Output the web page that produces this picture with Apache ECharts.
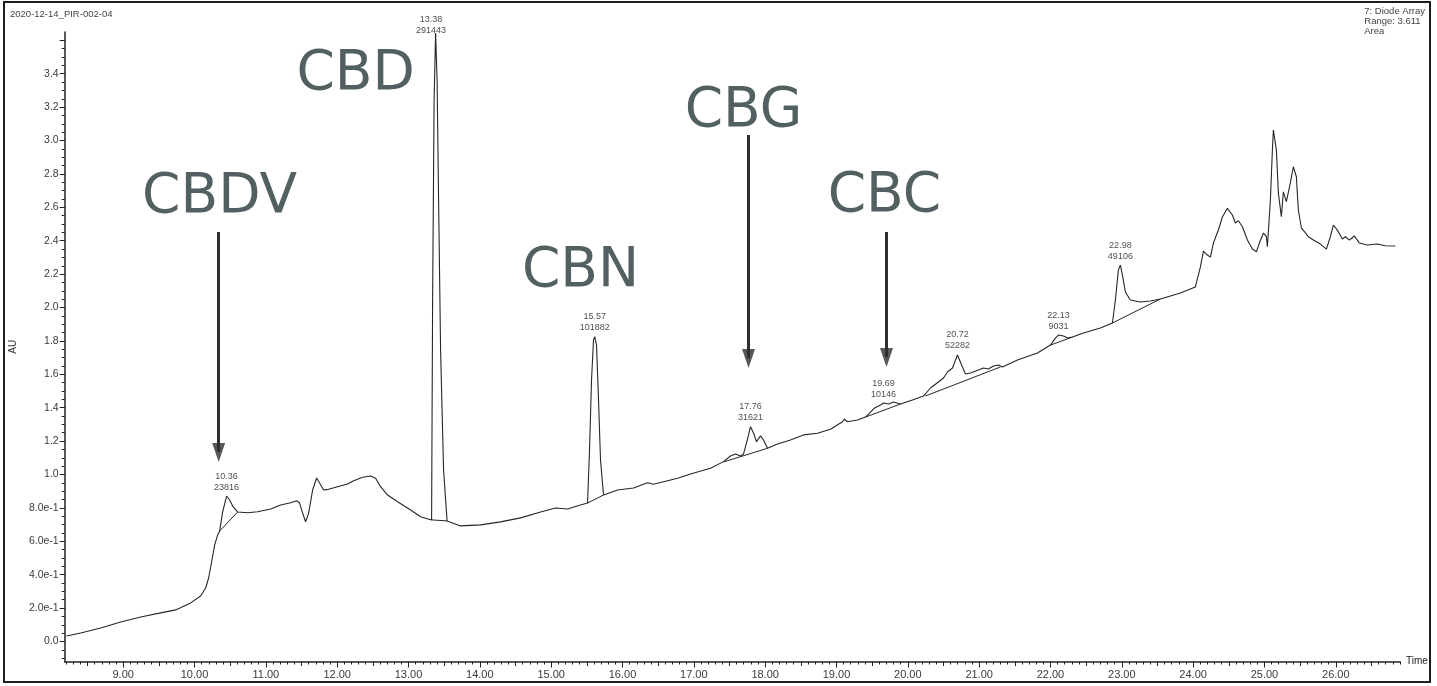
<!DOCTYPE html>
<html><head><meta charset="utf-8">
<script src="https://cdn.jsdelivr.net/npm/echarts@6/dist/echarts.min.js"></script>
<style>html,body{margin:0;padding:0;background:#fff}#c{width:1437px;height:686px}</style>
</head><body><div id="c"></div>
<script>
// Chromatogram trace: [retention time (min), absorbance (AU)]
const trace = [
[8.208,0.033],[8.405,0.051],[8.685,0.081],[8.965,0.117],[9.245,0.147],[9.526,0.171],[9.736,0.189],[9.946,0.231],
[10.086,0.272],[10.156,0.320],[10.198,0.380],[10.240,0.476],[10.283,0.578],[10.325,0.638],[10.353,0.662],[10.394,0.775],
[10.450,0.871],[10.493,0.847],[10.535,0.811],[10.605,0.775],[10.745,0.771],[10.885,0.777],[11.067,0.793],[11.208,0.817],
[11.348,0.831],[11.432,0.843],[11.474,0.829],[11.516,0.769],[11.558,0.717],[11.600,0.769],[11.656,0.907],[11.712,0.979],
[11.754,0.949],[11.810,0.907],[11.880,0.911],[12.006,0.927],[12.147,0.943],[12.231,0.963],[12.357,0.983],[12.469,0.991],
[12.539,0.977],[12.609,0.927],[12.707,0.877],[12.847,0.837],[13.030,0.787],[13.170,0.747],[13.324,0.728],
[13.338,2.045],[13.359,3.243],[13.380,3.644],[13.401,3.362],[13.422,2.644],[13.450,1.746],[13.492,1.027],[13.541,0.722],
[13.730,0.692],[14.011,0.698],[14.291,0.716],[14.571,0.740],[14.852,0.775],[15.062,0.799],[15.230,0.793],[15.412,0.817],
[15.510,0.829],[15.538,1.147],[15.566,1.566],[15.594,1.805],[15.612,1.825],[15.636,1.775],[15.664,1.446],[15.692,1.087],
[15.734,0.877],[15.931,0.907],[16.155,0.919],[16.351,0.951],[16.435,0.941],[16.576,0.957],[16.772,0.977],[16.954,1.003],
[17.234,1.037],[17.416,1.077],[17.514,1.111],[17.585,1.123],[17.655,1.111],[17.697,1.123],[17.750,1.207],[17.795,1.286],
[17.837,1.249],[17.879,1.196],[17.935,1.231],[17.977,1.207],[18.033,1.157],[18.173,1.183],[18.355,1.207],[18.538,1.237],
[18.734,1.247],[18.916,1.271],[19.084,1.316],[19.112,1.331],[19.154,1.316],[19.294,1.326],[19.407,1.344],[19.449,1.362],
[19.533,1.398],[19.617,1.416],[19.659,1.428],[19.729,1.422],[19.799,1.434],[19.897,1.422],[20.065,1.446],[20.219,1.470],
[20.247,1.482],[20.317,1.518],[20.345,1.524],[20.429,1.554],[20.500,1.578],[20.556,1.614],[20.626,1.638],[20.696,1.716],
[20.766,1.644],[20.808,1.602],[20.878,1.608],[20.990,1.626],[21.060,1.638],[21.130,1.632],[21.200,1.650],[21.271,1.656],
[21.327,1.644],[21.537,1.686],[21.817,1.728],[22.000,1.775],[22.069,1.817],[22.112,1.835],[22.182,1.829],[22.238,1.817],
[22.308,1.823],[22.462,1.847],[22.700,1.877],[22.868,1.907],[22.910,2.045],[22.952,2.225],[22.980,2.254],[23.008,2.195],
[23.050,2.093],[23.120,2.045],[23.260,2.033],[23.400,2.039],[23.541,2.051],[23.821,2.087],[24.031,2.123],[24.102,2.243],
[24.144,2.338],[24.200,2.314],[24.242,2.302],[24.284,2.386],[24.354,2.464],[24.410,2.542],[24.480,2.594],[24.550,2.554],
[24.593,2.506],[24.635,2.520],[24.691,2.484],[24.761,2.404],[24.831,2.350],[24.887,2.334],[24.929,2.386],[24.985,2.446],
[25.027,2.424],[25.041,2.364],[25.083,2.644],[25.111,2.943],[25.125,3.063],[25.167,2.943],[25.195,2.686],[25.237,2.544],
[25.265,2.693],[25.307,2.634],[25.335,2.644],[25.363,2.746],[25.405,2.843],[25.447,2.783],[25.475,2.584],[25.518,2.476],
[25.560,2.454],[25.616,2.424],[25.686,2.404],[25.784,2.380],[25.868,2.350],[25.924,2.424],[25.966,2.494],[26.022,2.464],
[26.092,2.410],[26.134,2.424],[26.191,2.404],[26.261,2.428],[26.331,2.386],[26.443,2.374],[26.583,2.380],[26.695,2.370],
[26.835,2.368]
];
// Integration baselines drawn under the peaks
const baselines = [
[[10.353,0.662],[10.605,0.775]],
[[13.324,0.728],[13.541,0.722]],
[[15.510,0.829],[15.734,0.877]],
[[17.416,1.075],[18.033,1.157]],
[[19.407,1.344],[19.897,1.422]],
[[20.247,1.470],[21.299,1.644]],
[[22.000,1.775],[22.308,1.823]],
[[22.868,1.907],[23.541,2.051]]
];
// Peak annotations
const peakRT    = ['10.36','13.38','15.57','17.76','19.69','20.72','22.13','22.98'];
const peakArea  = ['23816','291443','101882','31621','10146','52282','9031','49106'];
const peakApexT = [10.450,13.380,15.612,17.795,19.659,20.696,22.112,22.980];
const peakApexV = [0.871,3.644,1.825,1.286,1.428,1.716,1.835,2.254];
// Compound names
const compounds = ['CBDV','CBD','CBN','CBG','CBC'];
// Tick labels
const xTickLabels = [9,10,11,12,13,14,15,16,17,18,19,20,21,22,23,24,25,26];
const yTickLabels = [0,0.2,0.4,0.6,0.8,1.0,1.2,1.4,1.6,1.8,2.0,2.2,2.4,2.6,2.8,3.0,3.2,3.4];

const X_MIN = 8.18, X_MAX = 26.9, Y_MIN = -0.12, Y_MAX = 3.65;
const minorX = [], halfX = [], minorY = [];
for (let i = 82; i <= 269; i++) minorX.push(+(i/10).toFixed(1));
for (let i = 17; i <= 53; i++) halfX.push(i/2);
for (let i = -2; i <= 72; i++) minorY.push(+(i*0.05).toFixed(2));

// layout-only placement for compound annotations and arrows [time, from AU, tip AU]
const compoundPos = [[10.353,2.656],[12.259,3.392],[15.412,2.213],[17.697,3.171],[19.673,2.662]];
const arrows = [[10.339,2.452,1.075],[17.767,3.033,1.638],[19.701,2.452,1.644]];

const axisColor = '#222';
const labelFont = {fontFamily:'Liberation Sans, Arial, sans-serif', color:'#3a3a3a'};

function fmtY(v){
  if (Math.abs(v) < 1e-9) return '0.0';
  if (v < 0.999) return v.toExponential(1);
  return v.toFixed(1);
}

const chart = echarts.init(document.getElementById('c'), null, {renderer:'canvas'});
const grid = {left:64, right:37, top:32, bottom:24.5, containLabel:false};

const series = [{
  type:'line', data:trace, showSymbol:false, animation:false, silent:true,
  lineStyle:{color:'#262626', width:1.1}, z:5,
  markLine:{
    silent:true, animation:false, symbol:['none','none'],
    lineStyle:{color:'#2e2e2e', width:3, type:'solid'}, label:{show:false},
    data: arrows.map(a => [{coord:[a[0],a[1]]},{coord:[a[0],a[2]+0.06]}])
  }
}];
baselines.forEach(seg => series.push({
  type:'line', data:seg, showSymbol:false, animation:false, silent:true,
  lineStyle:{color:'#262626', width:1}, z:4
}));
// arrowheads
series.push({
  type:'scatter', animation:false, silent:true, z:8,
  symbol:'path://M0,0 L14,0 L7,20 Z', symbolSize:[13,19], symbolOffset:[0,-9.5],
  itemStyle:{color:'#2e2e2e'},
  data: arrows.map(a => [a[0], a[2]])
});
series.push({
  type:'scatter', symbolSize:1, itemStyle:{color:'rgba(0,0,0,0)'}, animation:false, silent:true, z:6,
  data: peakApexT.map((t,i) => {
    const d = {value:[t, peakApexV[i]], name:peakRT[i]+'\n'+peakArea[i]};
    if (i === 1) d.label = {position:'left', distance:4, offset:[0,-8], align:'center'};
    return d;
  }),
  label:{show:true, position:'top', distance:3, formatter:p=>p.name, fontSize:9, lineHeight:11,
         align:'center', ...labelFont, color:'#222'}
});
series.push({
  type:'scatter', symbolSize:1, itemStyle:{color:'rgba(0,0,0,0)'}, animation:false, silent:true, z:7,
  data: compounds.map((c,i) => ({value:compoundPos[i], name:c})),
  label:{show:true, position:'inside', formatter:p=>p.name, fontSize:55,
         fontFamily:'DejaVu Sans, sans-serif', color:'#27383b'}
});

const option = {
  animation:false,
  backgroundColor:'#ffffff',
  grid,
  xAxis:[{
    type:'value', min:X_MIN, max:X_MAX, position:'bottom',
    name:'Time', nameLocation:'end', nameGap:6,
    nameTextStyle:{fontSize:10, ...labelFont, color:'#222', verticalAlign:'middle'},
    axisLine:{show:true, onZero:false, lineStyle:{color:axisColor, width:1.5}},
    axisTick:{show:true, customValues:xTickLabels, length:6, lineStyle:{color:axisColor}},
    axisLabel:{show:true, customValues:xTickLabels, formatter:v=>v.toFixed(2), fontSize:11, margin:8, ...labelFont},
    splitLine:{show:false}
  },{
    type:'value', min:X_MIN, max:X_MAX, position:'bottom', gridIndex:0,
    axisLine:{show:false, onZero:false},
    axisTick:{show:true, customValues:minorX, length:3, lineStyle:{color:axisColor}},
    axisLabel:{show:false}, splitLine:{show:false}
  },{
    type:'value', min:X_MIN, max:X_MAX, position:'bottom', gridIndex:0,
    axisLine:{show:false, onZero:false},
    axisTick:{show:true, customValues:halfX, length:4.5, lineStyle:{color:axisColor}},
    axisLabel:{show:false}, splitLine:{show:false}
  }],
  yAxis:[{
    type:'value', min:Y_MIN, max:Y_MAX, position:'left',
    name:'AU', nameLocation:'middle', nameGap:46, nameRotate:90,
    nameTextStyle:{fontSize:10, ...labelFont, color:'#333'},
    axisLine:{show:true, onZero:false, lineStyle:{color:axisColor, width:1.5}},
    axisTick:{show:true, customValues:yTickLabels.concat([3.6]), length:5, lineStyle:{color:axisColor}},
    axisLabel:{show:true, customValues:yTickLabels, formatter:fmtY, fontSize:10.5, margin:6, ...labelFont},
    splitLine:{show:false}
  },{
    type:'value', min:Y_MIN, max:Y_MAX, position:'left', gridIndex:0,
    axisLine:{show:false, onZero:false},
    axisTick:{show:true, customValues:minorY, length:3, lineStyle:{color:axisColor}},
    axisLabel:{show:false}, splitLine:{show:false}
  }],
  graphic:[
    {type:'rect', shape:{x:4, y:2, width:1426, height:680}, style:{fill:'none', stroke:'#1e1e1e', lineWidth:2}, silent:true},
    {type:'text', left:10, top:9, style:{text:'2020-12-14_PIR-002-04', fontSize:9.5, fill:'#444', fontFamily:'Liberation Sans, Arial, sans-serif'}},
    {type:'text', right:12, top:6, style:{text:'7: Diode Array\nRange: 3.611\nArea', align:'right', fontSize:9.5, lineHeight:10, fill:'#444', fontFamily:'Liberation Sans, Arial, sans-serif'}}
  ],
  series
};
chart.setOption(option);
</script>
</body></html>
